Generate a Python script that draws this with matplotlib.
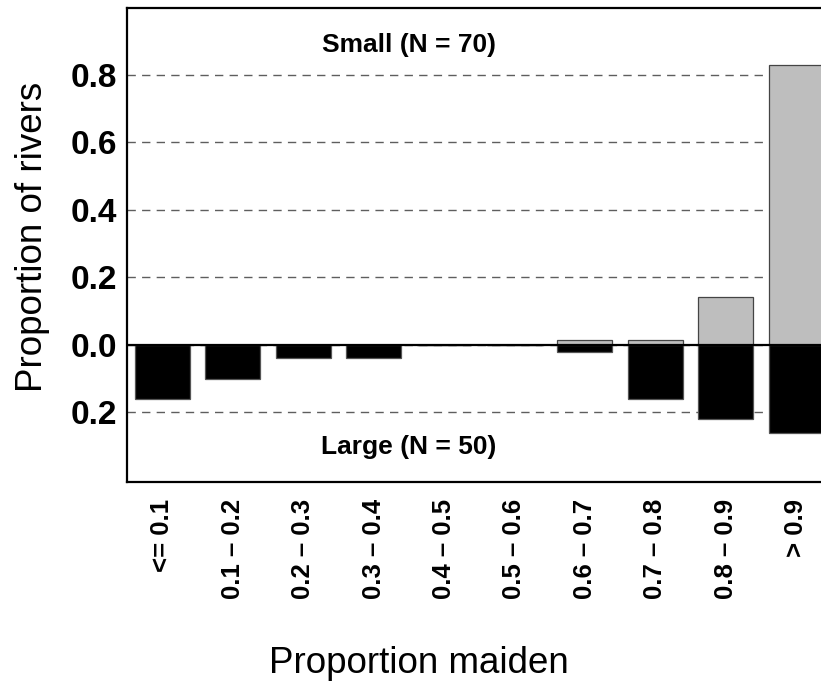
import numpy as np
import matplotlib
matplotlib.use("Agg")
import matplotlib.pyplot as plt

plt.rcParams['font.family'] = ['Liberation Sans', 'DejaVu Sans']

# maiden proportion classes
categories = ['<= 0.1', '0.1 – 0.2', '0.2 – 0.3', '0.3 – 0.4', '0.4 – 0.5',
              '0.5 – 0.6', '0.6 – 0.7', '0.7 – 0.8', '0.8 – 0.9', '> 0.9']

# number of rivers per class
n_small = 70
small_counts = [0, 0, 0, 0, 0, 0, 1, 1, 10, 58]
n_large = 50
large_counts = [8, 5, 2, 2, 0, 0, 1, 8, 11, 13]

ytick_vals = [-0.2, 0.0, 0.2, 0.4, 0.6, 0.8]

small_prop = np.array(small_counts) / n_small
large_prop = np.array(large_counts) / n_large

fig = plt.figure(figsize=(8.21, 6.85), dpi=100)
ax = fig.add_axes([0.1547, 0.2964, 0.862, 0.6920])

x = np.arange(len(categories))

# dashed guide lines behind the bars
for v in ytick_vals:
    ax.axhline(v, color='#5e5e5e', lw=1.0, ls=(0, (6, 4.5)), zorder=1)

ax.bar(x, small_prop, width=0.78, color='#bebebe', edgecolor='#444444',
       linewidth=0.9, zorder=2)
ax.bar(x, -large_prop, width=0.78, color='black', edgecolor='#555555',
       linewidth=0.9, zorder=2)
ax.axhline(0, color='black', lw=1.6, zorder=3)

ax.set_xlim(-0.504, 9.55)
ax.set_ylim(-0.406, 0.9985)

ax.set_yticks(ytick_vals)
ax.set_yticklabels(['%.1f' % abs(v) for v in ytick_vals],
                   fontsize=24, fontweight='bold')
ax.set_xticks(x)
ax.set_xticklabels(categories, rotation=90, fontsize=18.5, fontweight='bold')
ax.tick_params(axis='y', length=0, pad=7)
ax.tick_params(axis='x', length=0, pad=12)

for side in ['left', 'top', 'bottom', 'right']:
    ax.spines[side].set_linewidth(1.6)

ax.text(3.5, 0.889, 'Small (N = 70)', ha='center', va='center',
        fontsize=19, fontweight='bold')
ax.text(3.5, -0.302, 'Large (N = 50)', ha='center', va='center',
        fontsize=19, fontweight='bold')

ax.set_ylabel('Proportion of rivers', fontsize=26.5)
ax.yaxis.set_label_coords(-0.109, 0.518)
ax.set_xlabel('Proportion maiden', fontsize=26.5)
ax.xaxis.set_label_coords(0.412, -0.345)

fig.savefig('out.png', dpi=100)
